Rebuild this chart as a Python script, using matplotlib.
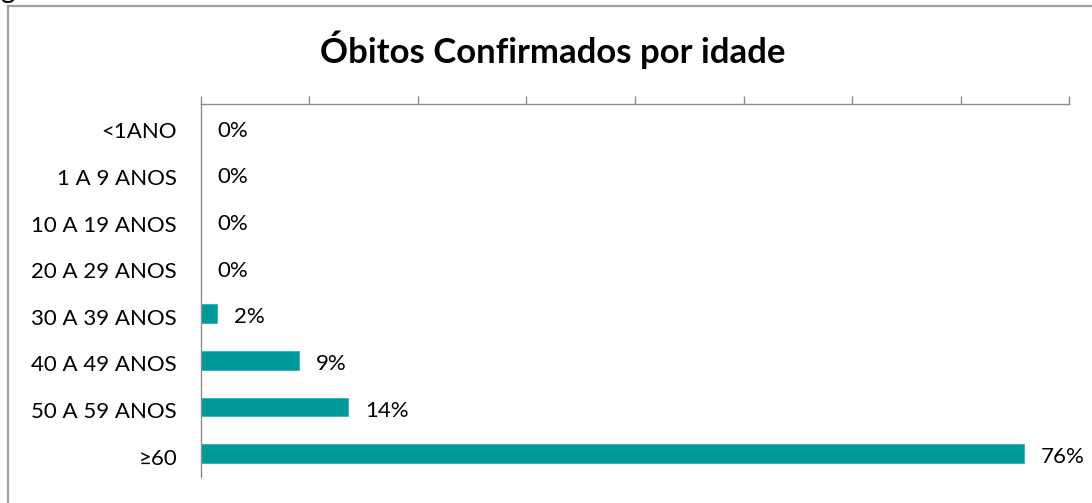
import matplotlib
matplotlib.use("Agg")
import matplotlib.pyplot as plt
from matplotlib.lines import Line2D
from matplotlib.transforms import ScaledTranslation

categories = ["<1ANO", "1 A 9 ANOS", "10 A 19 ANOS", "20 A 29 ANOS",
              "30 A 39 ANOS", "40 A 49 ANOS", "50 A 59 ANOS", "≥60"]
values = [0, 0, 0, 0, 1.5, 9.05, 13.6, 75.8]
value_labels = ["0%", "0%", "0%", "0%", "2%", "9%", "14%", "76%"]
title = "Óbitos Confirmados por idade"

plt.rcParams['font.family'] = ['Lato', 'DejaVu Sans']

W, H = 1092, 503
fig = plt.figure(figsize=(W / 100, H / 100), dpi=100)
fig.patch.set_facecolor("white")

# chart frame (cropped on right/bottom): only left and top edges visible
fx, fy = 7.5 / W, 1 - 6 / H
fig.add_artist(Line2D([fx, fx], [0, fy], transform=fig.transFigure,
                      color="#a0a0a0", linewidth=1.6))
fig.add_artist(Line2D([fx, 1.0], [fy, fy], transform=fig.transFigure,
                      color="#a0a0a0", linewidth=1.6))
fig.text(0.0, 1.0 + 2 / H, "g", fontsize=20, va="baseline", ha="left")

ax = fig.add_axes([200.7 / W, 1 - 477 / H, 868.6 / W, 373 / H])
y = list(range(len(categories)))
ax.barh(y, values, height=0.4, color="#009999", edgecolor="#33b3b3", linewidth=0.6)
ax.set_ylim(len(categories) - 0.5, -0.5)
ax.set_xlim(0, 80)
ax.set_xticks(range(0, 81, 10))
ax.xaxis.tick_top()
ax.tick_params(axis="x", direction="out", length=6, width=1, color="#8c8c8c",
               labeltop=False, labelbottom=False)
ax.set_yticks(y)
ax.set_yticklabels(categories, fontsize=16)
ax.tick_params(axis="y", length=0, pad=17)
off = ScaledTranslation(0, -3 / 100, fig.dpi_scale_trans)
for t in ax.get_yticklabels():
    t.set_transform(t.get_transform() + off)
for s in ["right", "bottom"]:
    ax.spines[s].set_visible(False)
for s in ["left", "top"]:
    ax.spines[s].set_color("#8c8c8c")
    ax.spines[s].set_linewidth(1)

for yi, v, lab in zip(y, values, value_labels):
    ax.annotate(lab, xy=(v, yi), xytext=(12, -2.5), textcoords="offset points",
                ha="left", va="center", fontsize=16)

fig.text(553 / W, 1 - 50 / H, title, fontsize=25, fontweight="bold",
         ha="center", va="center")

fig.savefig("out.png", dpi=100, facecolor="white")
